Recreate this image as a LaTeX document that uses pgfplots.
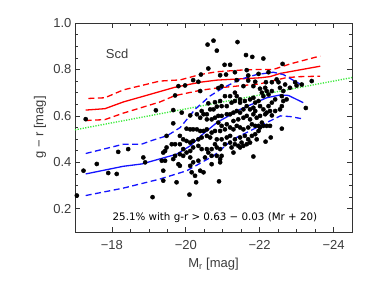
\documentclass[border=0pt]{standalone}
\usepackage{pgfplots}
\pgfplotsset{compat=1.18}
\usepackage{pgfplotstable}
\usepackage{fontspec}
\setmainfont{Liberation Sans}
\newfontfamily\djv{DejaVu Sans}
\definecolor{myred}{RGB}{255,0,0}
\definecolor{myblue}{RGB}{20,20,255}
\definecolor{mygreen}{RGB}{60,235,60}
\definecolor{txt}{RGB}{60,60,60}

\pgfplotstableread{
x y
-20.59 0.907
-20.75 0.924
-20.84 0.881
-21.40 0.918
-21.63 0.862
-21.80 0.854
-22.10 0.847
-21.05 0.820
-21.20 0.820
-20.61 0.804
-22.62 0.824
-20.41 0.778
-20.93 0.775
-21.09 0.778
-21.33 0.788
-21.65 0.797
-21.69 0.774
-21.97 0.781
-22.24 0.788
-22.46 0.757
-20.34 0.747
-20.20 0.754
-19.98 0.731
-19.80 0.728
-19.71 0.688
-20.39 0.707
-20.88 0.720
-20.97 0.728
-21.38 0.754
-21.69 0.752
-21.88 0.747
-22.17 0.745
-22.33 0.745
-22.51 0.745
-22.69 0.735
-22.96 0.745
-23.00 0.731
-23.14 0.735
-23.41 0.750
-22.82 0.721
-22.55 0.721
-22.64 0.707
-22.15 0.721
-22.19 0.707
-22.06 0.700
-22.01 0.717
-22.24 0.692
-22.33 0.707
-22.10 0.685
-21.83 0.728
-21.56 0.728
-21.33 0.700
-21.38 0.685
-21.47 0.671
-21.20 0.685
-21.06 0.685
-20.93 0.664
-20.79 0.659
-20.61 0.654
-20.66 0.628
-20.75 0.628
-20.84 0.640
-20.97 0.642
-21.11 0.642
-21.24 0.657
-21.33 0.664
-21.47 0.657
-21.60 0.664
-21.74 0.671
-21.83 0.678
-21.88 0.657
-21.97 0.664
-22.01 0.642
-21.83 0.635
-21.88 0.621
-21.74 0.628
-21.65 0.642
-21.56 0.628
-21.47 0.614
-21.38 0.621
-21.29 0.614
-21.20 0.607
-21.11 0.607
-20.97 0.600
-20.88 0.600
-20.79 0.592
-20.70 0.585
-20.57 0.585
-20.43 0.621
-20.39 0.592
-20.48 0.607
-20.57 0.607
-20.30 0.607
-20.12 0.602
-19.89 0.614
-19.66 0.625
-19.19 0.624
-20.88 0.571
-20.97 0.557
-21.11 0.564
-21.29 0.578
-21.42 0.585
-21.56 0.592
-21.65 0.600
-21.74 0.585
-21.83 0.607
-21.92 0.592
-22.01 0.600
-22.19 0.614
-22.28 0.621
-22.33 0.602
-22.42 0.621
-22.55 0.628
-22.60 0.642
-22.64 0.664
-22.73 0.671
-22.60 0.685
-22.42 0.671
-22.33 0.657
-22.24 0.642
-22.10 0.628
-22.15 0.607
-22.06 0.571
-21.97 0.557
-21.88 0.557
-21.79 0.564
-21.69 0.550
-21.56 0.542
-21.47 0.550
-21.38 0.557
-21.29 0.542
-21.20 0.550
-21.06 0.542
-20.93 0.535
-20.79 0.535
-20.70 0.528
-20.57 0.542
-20.48 0.535
-20.39 0.535
-20.30 0.542
-20.20 0.542
-20.12 0.542
-20.02 0.545
-19.66 0.568
-19.48 0.514
-19.84 0.514
-19.93 0.499
-20.02 0.492
-20.12 0.485
-20.20 0.492
-20.34 0.499
-20.43 0.507
-20.57 0.514
-20.66 0.507
-20.84 0.499
-20.97 0.499
-21.11 0.507
-21.20 0.514
-21.33 0.499
-21.47 0.507
-21.60 0.514
-21.69 0.499
-21.79 0.514
-21.88 0.521
-21.97 0.535
-22.01 0.550
-22.10 0.557
-22.19 0.557
-22.28 0.557
-22.60 0.545
-22.30 0.507
-22.16 0.489
-21.92 0.499
-21.74 0.485
-21.65 0.478
-21.51 0.485
-21.42 0.471
-21.33 0.478
-21.24 0.464
-21.29 0.442
-21.47 0.464
-21.56 0.471
-21.20 0.485
-21.06 0.478
-20.93 0.457
-20.84 0.464
-20.79 0.478
-20.70 0.457
-20.61 0.442
-20.57 0.457
-20.43 0.457
-20.34 0.471
-20.20 0.464
-20.12 0.449
-20.02 0.442
-19.93 0.457
-19.84 0.478
-19.71 0.478
-19.62 0.478
-19.48 0.464
-19.44 0.449
-19.39 0.442
-19.35 0.407
-19.44 0.407
-19.66 0.414
-19.71 0.428
-19.84 0.435
-19.93 0.428
-20.12 0.421
-20.20 0.400
-20.34 0.407
-20.52 0.421
-20.70 0.428
-20.84 0.428
-20.70 0.392
-20.93 0.400
-20.93 0.414
-20.97 0.428
-20.12 0.385
-20.16 0.357
-20.25 0.342
-20.39 0.364
-20.48 0.357
-19.84 0.385
-19.80 0.392
-19.39 0.364
-19.39 0.321
-19.75 0.314
-20.28 0.314
-20.90 0.318
-21.83 0.425
-20.10 0.261
-19.10 0.250
-18.85 0.421
-18.90 0.400
-23.25 0.634
-17.29 0.586
-17.23 0.364
-17.59 0.393
-17.90 0.354
-18.13 0.350
-18.17 0.445
-18.44 0.457
-17.05 0.257
}\points

\begin{document}
\begin{tikzpicture}
\begin{axis}[
  scale only axis, width=277pt, height=209pt,
  x dir=reverse, xmin=-24.5, xmax=-17, ymin=0.1, ymax=1.0,
  xtick={-24,-22,-20,-18}, xticklabels={−24,−22,−20,−18},
  ytick={0.2,0.4,0.6,0.8,1.0}, yticklabels={0.2,0.4,0.6,0.8,1.0},
  minor x tick num=3, minor y tick num=3,
  tick align=inside, tick pos=both,
  major tick length=5pt, minor tick length=3pt,
  every tick/.style={black!80, line width=0.6pt},
  axis line style={black!80, line width=0.8pt},
  ticklabel style={font=\fontsize{13}{15}\selectfont, text=txt},
  xticklabel style={yshift=-5pt},
  xlabel={M\textsubscript{r} [mag]},
  ylabel={g − r [mag]},
  label style={font=\fontsize{13}{15}\selectfont, text=txt},
  xlabel style={at={([yshift=-32pt]axis description cs:0.5,0)}, anchor=center},
  ylabel style={at={([xshift=-35pt]axis description cs:0,0.5)}, anchor=center},
  clip=true,
]
\addplot[only marks, mark=*, mark size=2.1pt, black] table[x=x,y=y]{\points};
\addplot[mygreen, line width=1.4pt, dash pattern=on 1.2pt off 1.4pt] coordinates {(-17,0.54) (-24.5,0.765)};
\addplot[myred, line width=1.3pt] coordinates {(-17.29,0.625) (-17.81,0.631) (-18.31,0.66) (-19.70,0.723) (-20.39,0.745) (-20.84,0.754) (-22.01,0.764) (-22.28,0.769) (-22.56,0.783) (-23.64,0.814)};
\addplot[myred, line width=1.3pt, dash pattern=on 6pt off 3.5pt] coordinates {(-17.36,0.675) (-17.81,0.678) (-18.31,0.712) (-19.30,0.75) (-19.85,0.755) (-20.39,0.778) (-20.84,0.79) (-21.47,0.797) (-22.01,0.80) (-22.37,0.80) (-22.83,0.824) (-23.64,0.858)};
\addplot[myred, line width=1.3pt, dash pattern=on 6pt off 3.5pt] coordinates {(-17.29,0.580) (-17.81,0.584) (-18.31,0.612) (-19.30,0.66) (-19.70,0.687) (-20.39,0.71) (-20.84,0.72) (-22.01,0.738) (-22.73,0.765) (-23.10,0.769) (-23.64,0.771)};
\addplot[myblue, line width=1.3pt] coordinates {(-17.29,0.35) (-18.31,0.383) (-18.81,0.393) (-19.75,0.435) (-20.12,0.471) (-20.45,0.52) (-20.84,0.571) (-21.47,0.628) (-22.19,0.678) (-22.55,0.69) (-22.78,0.688) (-23.18,0.657)};
\addplot[myblue, line width=1.3pt, dash pattern=on 6pt off 3.5pt] coordinates {(-17.29,0.438) (-18.31,0.478) (-18.8,0.478) (-19.1,0.495) (-19.5,0.515) (-19.85,0.55) (-20.25,0.628) (-20.65,0.685) (-21.0,0.72) (-21.47,0.757) (-21.92,0.778) (-22.37,0.788) (-22.64,0.778) (-22.87,0.757) (-23.12,0.735)};
\addplot[myblue, line width=1.3pt, dash pattern=on 6pt off 3.5pt] coordinates {(-17.29,0.257) (-18.31,0.289) (-19.30,0.328) (-20.03,0.364) (-20.75,0.428) (-21.29,0.50) (-22.01,0.557) (-22.56,0.60) (-22.83,0.597) (-23.14,0.588)};
\node[text=txt, font=\fontsize{13}{15}\selectfont] at (axis cs:-18.14,0.868) {Scd};
\node[text=black, font=\djv\fontsize{10.3}{12}\selectfont] at (axis cs:-20.79,0.161) {25.1\% with g-r > 0.63 − 0.03 (Mr + 20)};
\end{axis}
\pgfresetboundingbox
\path[use as bounding box] ([xshift=-75pt,yshift=-49pt]current axis.south west) rectangle ([xshift=22pt,yshift=23pt]current axis.north east);
\end{tikzpicture}
\end{document}
